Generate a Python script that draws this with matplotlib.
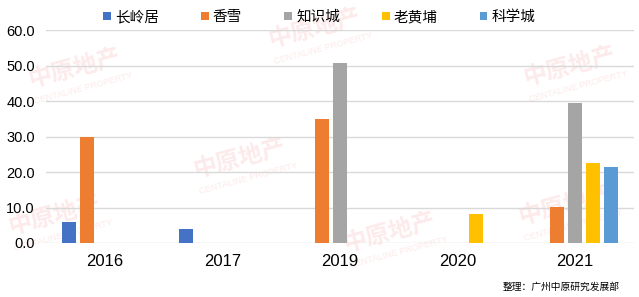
import matplotlib
matplotlib.use("Agg")
import matplotlib.pyplot as plt
import numpy as np

plt.rcParams['font.family'] = ['Liberation Sans', 'Noto Sans CJK SC', 'DejaVu Sans']

categories = ['2016', '2017', '2019', '2020', '2021']
series_names = ['长岭居', '香雪', '知识城', '老黄埔', '科学城']
values = {
    '长岭居': [6.0, 4.0, 0, 0, 0],
    '香雪':   [29.8, 0, 35.0, 0, 10.2],
    '知识城': [0, 0, 50.8, 0, 39.5],
    '老黄埔': [0, 0, 0, 8.2, 22.6],
    '科学城': [0, 0, 0, 0, 21.5],
}
colors = ['#4472C4', '#ED7D31', '#A5A5A5', '#FFC000', '#5B9BD5']
yticks = [0, 10, 20, 30, 40, 50, 60]
source_text = '整理：广州中原研究发展部'

W, H = 639, 297
fig = plt.figure(figsize=(W / 100, H / 100), dpi=100)
fig.patch.set_facecolor('white')

# watermarks (faint, behind everything)
wm_pos = [(75, 68), (315, 28), (240, 158), (570, 66), (565, 205), (55, 215), (390, 232)]
for (px, py) in wm_pos:
    fig.text(px / W, 1 - py / H, '中原地产', fontsize=17, fontweight='bold',
             color='#fdeaea', rotation=15, ha='center', va='center', zorder=-5,
             family=['Noto Sans CJK SC'])
    fig.text((px + 8) / W, 1 - (py + 20) / H, 'CENTALINE PROPERTY', fontsize=6.5,
             color='#fdeaea', rotation=15, ha='center', va='center', zorder=-5)

ax = fig.add_axes([46 / W, 1 - 243 / H, (634 - 46) / W, (243 - 30.3) / H])
ax.set_facecolor('none')

x = np.arange(len(categories))
step = 0.153
bw = 0.119
for i, name in enumerate(series_names):
    ax.bar(x + (i - 2) * step, values[name], width=bw, color=colors[i],
           label=name, zorder=3)

ax.set_xlim(-0.5, len(categories) - 0.5)
ax.set_ylim(0, 60)
ax.set_yticks(yticks)
ax.set_yticklabels([f'{v:.1f}' for v in yticks], fontsize=10.5)
ax.set_xticks(x)
ax.set_xticklabels(categories, fontsize=12)
ax.tick_params(axis='both', length=0)
ax.tick_params(axis='y', pad=8)
ax.tick_params(axis='x', pad=8)
ax.grid(axis='y', color='#d9d9d9', linewidth=1, zorder=1)
for s in ax.spines.values():
    s.set_visible(False)

leg = fig.legend(loc='center', bbox_to_anchor=(319.5 / W, 1 - 17 / H), ncol=5,
                 frameon=False, fontsize=10.5, handlelength=0.5, handleheight=0.5,
                 handletextpad=0.3, columnspacing=2.9, borderaxespad=0)

fig.text(620 / W, 1 - 287 / H, source_text, fontsize=7, ha='right', va='center',
         color='#000000', family=['Noto Sans CJK SC'])

fig.savefig('out.png', dpi=100)
